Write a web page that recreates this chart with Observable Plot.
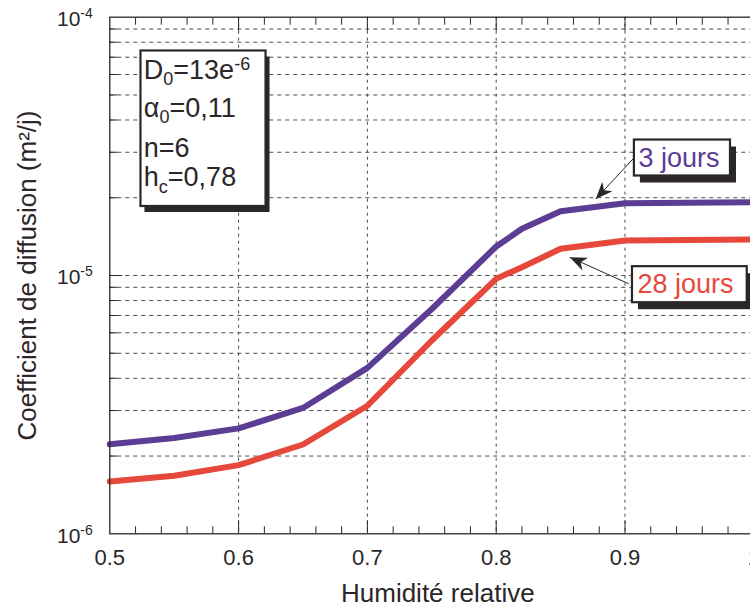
<!DOCTYPE html>
<html>
<head>
<meta charset="utf-8">
<script src="https://cdn.jsdelivr.net/npm/d3@7"></script>
<script src="https://cdn.jsdelivr.net/npm/@observablehq/plot@0.6"></script>
<style>
html, body { margin: 0; padding: 0; background: #fff; overflow: hidden; width: 750px; height: 607px; }
svg { display: block; max-width: none !important; }
</style>
</head>
<body>
<script>
// ---- data ----
const humidity = [0.5, 0.55, 0.6, 0.65, 0.7, 0.75, 0.8, 0.82, 0.85, 0.9, 1.0];
const diff3 = [2.22e-6, 2.35e-6, 2.56e-6, 3.07e-6, 4.39e-6, 7.42e-6, 1.295e-5, 1.516e-5, 1.774e-5, 1.905e-5, 1.922e-5];
const diff28 = [1.594e-6, 1.677e-6, 1.844e-6, 2.217e-6, 3.131e-6, 5.603e-6, 9.71e-6, 1.077e-5, 1.269e-5, 1.366e-5, 1.378e-5];
const seriesNames = ["3 jours", "28 jours"];
const seriesColors = ["#5b3d93", "#e6493b"];

const xTicks = [0.5, 0.6, 0.7, 0.8, 0.9, 1.0];
const xMajorInner = [0.6, 0.7, 0.8, 0.9];
const xMinor = [0.52,0.54,0.56,0.58,0.62,0.64,0.66,0.68,0.72,0.74,0.76,0.78,0.82,0.84,0.86,0.88,0.92,0.94,0.96,0.98];
const yTicks = [1e-6, 1e-5, 1e-4];
const yTickExp = ["-6", "-5", "-4"];
const yGrid = [2e-6,3e-6,4e-6,5e-6,6e-6,7e-6,8e-6,9e-6,1e-5,2e-5,3e-5,4e-5,5e-5,6e-5,7e-5,8e-5,9e-5];

const paramLines = ["D0=13e-6", "a0=0,11", "n=6", "hc=0,78"];
const paramY = [6.22e-5, 4.43e-5, 3.10e-5, 2.406e-5];
const paramX = 0.5264;

// annotation boxes (data coordinates)
const paramBox = [{x1: 0.5242, x2: 0.6213, y1: 7.40e-5, y2: 1.850e-5}];
const seriesBoxes = [
  {x1: 0.9073, x2: 0.9819, y1: 3.346e-5, y2: 2.428e-5},
  {x1: 0.9058, x2: 0.9949, y1: 1.082e-5, y2: 7.847e-6}
];
const seriesLabelX = [0.9419, 0.9469];
const seriesLabelY = [2.850e-5, 9.214e-6];
const arrows = [
  {x1: 0.9075, y1: 2.871e-5, x2: 0.8773, y2: 1.978e-5},
  {x1: 0.9029, y1: 9.288e-6, x2: 0.8571, y2: 1.177e-5}
];

// ---- build tables ----
const rows = [];
humidity.forEach((h, i) => {
  rows.push({h, d: diff3[i], s: seriesNames[0]});
  rows.push({h, d: diff28[i], s: seriesNames[1]});
});
const labels = seriesNames.map((s, i) => ({s, x: seriesLabelX[i], y: seriesLabelY[i]}));
const params = paramLines.map((t, i) => ({t, y: paramY[i]}));

const ink = "#2b2628";
const font = "'Liberation Sans', Arial, Helvetica, sans-serif";

function arrowHead(color) {
  const ns = "http://www.w3.org/2000/svg";
  const m = document.createElementNS(ns, "marker");
  m.setAttribute("viewBox", "-20 -10 22 20");
  m.setAttribute("markerWidth", 22);
  m.setAttribute("markerHeight", 20);
  m.setAttribute("markerUnits", "userSpaceOnUse");
  m.setAttribute("refX", 0);
  m.setAttribute("refY", 0);
  m.setAttribute("orient", "auto");
  const p = document.createElementNS(ns, "path");
  p.setAttribute("d", "M0,0L-17,-7L-12,0L-17,7Z");
  p.setAttribute("fill", ink);
  p.setAttribute("stroke", "none");
  m.appendChild(p);
  return m;
}

const W = 760;
const chart = Plot.plot({
  width: W,
  height: 607,
  marginLeft: 109.3,
  marginRight: W - 753.3,
  marginTop: 16.7,
  marginBottom: 73.7,
  style: {fontFamily: font, color: ink, background: "#fff", overflow: "visible", maxWidth: "none"},
  x: {domain: [0.5, 1.0]},
  y: {type: "log", domain: [1e-6, 1e-4]},
  color: {domain: seriesNames, range: seriesColors},
  marks: [
    Plot.gridY(yGrid, {stroke: "#4a4a4a", strokeOpacity: 1, strokeWidth: 1, strokeDasharray: "4,4"}),
    Plot.gridX(xMajorInner, {stroke: "#4a4a4a", strokeOpacity: 1, strokeWidth: 1, strokeDasharray: "3,4"}),
    // inward ticks
    Plot.axisX({anchor: "bottom", ticks: xMinor, tickSize: 7, dy: -7, tickFormat: () => ""}),
    Plot.axisX({anchor: "bottom", ticks: xMajorInner, tickSize: 13, dy: -13, tickFormat: () => ""}),
    Plot.axisX({anchor: "top", ticks: xMinor, tickSize: 7, dy: 7, tickFormat: () => ""}),
    Plot.axisX({anchor: "top", ticks: xMajorInner, tickSize: 13, dy: 13, tickFormat: () => ""}),
    Plot.axisY({anchor: "left", ticks: yGrid.filter(v => v !== 1e-5), tickSize: 8, dx: 8, tickFormat: () => ""}),
    Plot.axisY({anchor: "left", ticks: [1e-5], tickSize: 13, dx: 13, tickFormat: () => ""}),
    // tick labels
    Plot.text(xTicks, {x: d => d, frameAnchor: "bottom", dy: 24.5, textAnchor: "middle", lineAnchor: "middle", fontSize: 22, fill: ink,
      text: d => d === 1 ? "1" : d.toFixed(1)}),
    Plot.text(yTicks, {y: d => d, frameAnchor: "left", dx: -17, dy: 2, textAnchor: "end", lineAnchor: "middle",
      fontSize: 21, fill: ink, text: (d, i) => "10^" + yTickExp[i]}),
    // axis titles
    Plot.text(["Humidité relative"], {frameAnchor: "bottom", dx: 6, dy: 59.7, textAnchor: "middle", lineAnchor: "middle", fontSize: 26, fill: ink}),
    Plot.text(["Coefficient de diffusion (m²/j)"], {frameAnchor: "left", dx: -82.6, rotate: -90, textAnchor: "middle", lineAnchor: "middle", fontSize: 26, fill: ink}),
    // series
    Plot.line(rows, {x: "h", y: "d", z: "s", stroke: "s", strokeWidth: 6, strokeLinejoin: "round"}),
    Plot.frame({stroke: ink, strokeWidth: 1.3}),
    // annotations
    Plot.link(arrows, {x1: "x1", y1: "y1", x2: "x2", y2: "y2", stroke: ink, strokeWidth: 1, markerEnd: arrowHead}),
    Plot.rect(paramBox, {x1: "x1", x2: "x2", y1: "y1", y2: "y2", fill: ink, dx: 4, dy: 6}),
    Plot.rect(paramBox, {x1: "x1", x2: "x2", y1: "y1", y2: "y2", fill: "#fff", stroke: ink, strokeWidth: 2.2}),
    Plot.rect(seriesBoxes, {x1: "x1", x2: "x2", y1: "y1", y2: "y2", fill: ink, dx: 6, dy: 7}),
    Plot.rect(seriesBoxes, {x1: "x1", x2: "x2", y1: "y1", y2: "y2", fill: "#fff", stroke: ink, strokeWidth: 2.2}),
    Plot.text(params, {x: paramX, y: "y", text: "t", textAnchor: "start", lineAnchor: "middle", fontSize: 27, fill: ink}),
    Plot.text(labels, {x: "x", y: "y", text: "s", fill: "s", textAnchor: "middle", lineAnchor: "middle", fontSize: 27})
  ]
});

// rich text (sub/superscripts)
const rich = new Map([
  ["D0=13e-6", 'D<tspan font-size="18" dy="6">0</tspan><tspan dy="-6">=13e</tspan><tspan font-size="18" dy="-9">-6</tspan>'],
  ["a0=0,11", 'α<tspan font-size="18" dy="6">0</tspan><tspan dy="-6">=0,11</tspan>'],
  ["hc=0,78", 'h<tspan font-size="18" dy="7">c</tspan><tspan dy="-7">=0,78</tspan>'],
  ["10^-6", '10<tspan font-size="14" dy="-8">-6</tspan>'],
  ["10^-5", '10<tspan font-size="14" dy="-8">-5</tspan>'],
  ["10^-4", '10<tspan font-size="14" dy="-8">-4</tspan>']
]);
d3.select(chart).selectAll("text").each(function () {
  const t = this.textContent;
  if (rich.has(t)) this.innerHTML = rich.get(t);
});

document.body.appendChild(chart);
</script>
</body>
</html>
